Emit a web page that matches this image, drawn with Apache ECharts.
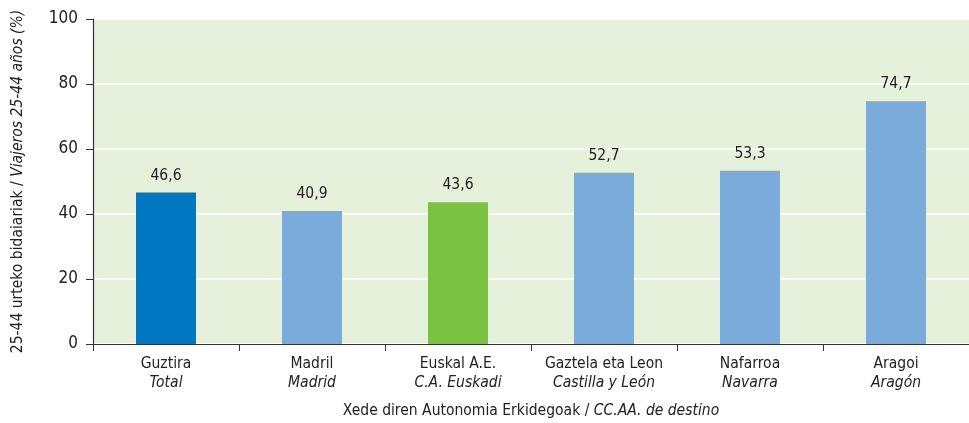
<!DOCTYPE html>
<html>
<head>
<meta charset="utf-8">
<script src="https://cdn.jsdelivr.net/npm/echarts@6/dist/echarts.min.js"></script>
<style>
  html, body { margin: 0; padding: 0; background: #fff; }
  #chart { width: 969px; height: 423px; }
</style>
</head>
<body>
<div id="chart"></div>
<script>
// categories: euskara / castellano
const catsEu = ['Guztira', 'Madril', 'Euskal A.E.', 'Gaztela eta Leon', 'Nafarroa', 'Aragoi'];
const catsEs = ['Total', 'Madrid', 'C.A. Euskadi', 'Castilla y León', 'Navarra', 'Aragón'];
const values = [46.6, 40.9, 43.6, 52.7, 53.3, 74.7];
const barColors = ['#0077c0', '#7aabdb', '#7bc142', '#7aabdb', '#7aabdb', '#7aabdb'];

const font = '"DejaVu Sans Condensed", "Liberation Sans Narrow", sans-serif';
const txt = '#222';

const chart = echarts.init(document.getElementById('chart'));

const option = {
    animation: false,
    grid: {
        left: 93,
        right: 0,
        top: 19,
        bottom: 79,
        containLabel: false,
        outerBoundsMode: 'none',
        show: true,
        backgroundColor: '#e6f1dc',
        borderWidth: 0
    },
    xAxis: {
        type: 'category',
        data: catsEu.map((c, i) => c + '\n' + catsEs[i]),
        axisLine: { show: true, lineStyle: { color: '#333', width: 1.2 } },
        axisTick: { show: true, length: 7, lineStyle: { color: '#333' } },
        axisLabel: {
            interval: 0,
            margin: 10,
            formatter: (v) => {
                const p = v.split('\n');
                return '{a|' + p[0] + '}\n{b|' + p[1] + '}';
            },
            rich: {
                a: { fontFamily: font, fontSize: 15.5, color: txt, lineHeight: 19 },
                b: { fontFamily: font, fontSize: 15.5, color: txt, fontStyle: 'italic', lineHeight: 19 }
            }
        },
        name: '{a|Xede diren Autonomia Erkidegoak / }{b|CC.AA. de destino}',
        nameLocation: 'middle',
        nameGap: 59,
        nameTextStyle: {
            rich: {
                a: { fontFamily: font, fontSize: 15.5, color: txt },
                b: { fontFamily: font, fontSize: 15.5, color: txt, fontStyle: 'italic' }
            }
        }
    },
    yAxis: {
        type: 'value',
        min: 0,
        max: 100,
        interval: 20,
        axisLine: { show: true, lineStyle: { color: '#333', width: 1.2 } },
        axisTick: { show: true, length: 7, lineStyle: { color: '#333' } },
        axisLabel: { fontFamily: font, fontSize: 17, color: txt, margin: 15 },
        splitLine: { show: true, lineStyle: { color: '#ffffff', width: 1.5 } },
        name: '{a|25-44 urteko bidaiariak / }{b|Viajeros 25-44 años (%)}',
        nameLocation: 'middle',
        nameRotate: 90,
        nameGap: 67,
        nameTextStyle: {
            rich: {
                a: { fontFamily: font, fontSize: 15.5, color: txt },
                b: { fontFamily: font, fontSize: 15.5, color: txt, fontStyle: 'italic' }
            }
        }
    },
    series: [{
        type: 'bar',
        barWidth: 60,
        data: values.map((v, i) => ({ value: v, itemStyle: { color: barColors[i] } })),
        label: {
            show: true,
            position: 'top',
            distance: 9,
            fontFamily: font,
            fontSize: 15.5,
            color: txt,
            formatter: (p) => p.value.toFixed(1).replace('.', ',')
        }
    }]
};

chart.setOption(option);
</script>
</body>
</html>
